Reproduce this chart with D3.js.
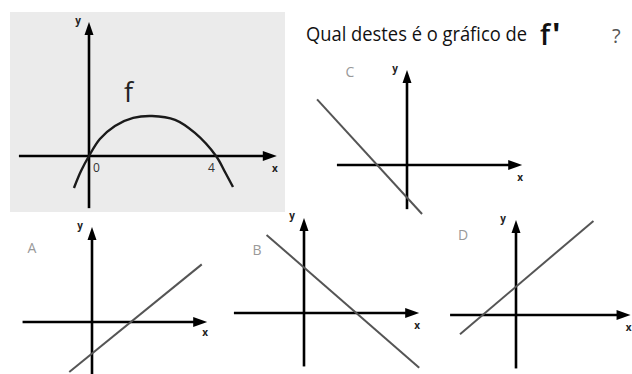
<!DOCTYPE html>
<html>
<head>
<meta charset="utf-8">
<script src="https://cdn.jsdelivr.net/npm/d3@7"></script>
<style>
  body { margin: 0; background: #fff; }
  text { font-family: "Open Sans", sans-serif; }
</style>
</head>
<body>
<div id="main"></div>
<script>
// points of f (units of the grid, 4 = second tick)
var fX = [-0.47, -0.25, 0, 0.34, 0.81, 1.38, 1.97, 2.69, 3.31, 3.97, 4.25, 4.5];
var fY = [-1.0, -0.47, 0, 0.53, 0.94, 1.19, 1.25, 1.13, 0.72, 0, -0.5, -0.97];
var fTicks = [0, 4];

// candidate graphs of f' : two end points of each line [x, y]
var options = ["A", "B", "C", "D"];
var lineA = [[-0.71, -1.56], [3.43, 1.8]];
var lineB = [[-1.17, 2.44], [3.6, -1.71]];
var lineC = [[-2.81, 2.05], [0.47, -1.53]];
var lineD = [[-1.75, -0.6], [2.42, 2.94]];
var lines = { A: lineA, B: lineB, C: lineC, D: lineD };

var width = 632, height = 374, unit = 32;

var svg = d3.select("#main")
  .append("svg")
  .attr("width", width)
  .attr("height", height);

// layout of each small plot: origin in pixels and axis extent in units
var panels = {
  f: { ox: 89, oy: 156, x: [-2.19, 5.87], y: [-1.63, 4.19], xl: [-2, 16], yl: [-11, 2] },
  A: { ox: 92, oy: 322, x: [-2.17, 3.6], y: [-1.63, 2.97], xl: [-2, 14], yl: [-12, 2], lab: [-60, -69] },
  B: { ox: 304, oy: 313, x: [-2.19, 3.6], y: [-1.67, 2.97], xl: [-2, 16], yl: [-12, 1], lab: [-47, -58] },
  C: { ox: 407, oy: 165, x: [-2.19, 3.6], y: [-1.38, 2.97], xl: [-2, 16], yl: [-12, 2], lab: [-57, -88] },
  D: { ox: 516, oy: 315, x: [-2.06, 3.58], y: [-1.67, 2.97], xl: [-2, 16], yl: [-13, 2], lab: [-53, -75] }
};

// grey box behind f
svg.append("rect")
  .attr("x", 10).attr("y", 12)
  .attr("width", 275).attr("height", 200)
  .attr("fill", "#ebebeb");

function makeScales(p) {
  var x = d3.scaleLinear().domain([0, 1]).range([p.ox, p.ox + unit]);
  var y = d3.scaleLinear().domain([0, 1]).range([p.oy, p.oy - unit]);
  return { x: x, y: y };
}

function drawAxes(g, p, s) {
  var x0 = s.x(p.x[0]), x1 = s.x(p.x[1]);
  var y0 = s.y(p.y[0]), y1 = s.y(p.y[1]);
  g.append("line")
    .attr("x1", x0).attr("x2", x1 - 10)
    .attr("y1", s.y(0)).attr("y2", s.y(0))
    .attr("stroke", "#000").attr("stroke-width", 2.6);
  g.append("line")
    .attr("x1", s.x(0)).attr("x2", s.x(0))
    .attr("y1", y0).attr("y2", y1 + 10)
    .attr("stroke", "#000").attr("stroke-width", 2.6);
  // arrow heads
  g.append("path")
    .attr("d", "M" + x1 + "," + s.y(0) + "L" + (x1 - 14) + "," + (s.y(0) - 5) + "L" + (x1 - 14) + "," + (s.y(0) + 5) + "Z")
    .attr("fill", "#000");
  g.append("path")
    .attr("d", "M" + s.x(0) + "," + y1 + "L" + (s.x(0) - 4.5) + "," + (y1 + 13) + "L" + (s.x(0) + 4.5) + "," + (y1 + 13) + "Z")
    .attr("fill", "#000");
  g.append("text")
    .attr("x", x1 + p.xl[0]).attr("y", s.y(0) + p.xl[1])
    .attr("text-anchor", "middle")
    .style("font-size", "10px").style("font-weight", "bold").attr("fill", "#222")
    .text("x");
  g.append("text")
    .attr("x", s.x(0) + p.yl[0]).attr("y", y1 + p.yl[1])
    .attr("text-anchor", "middle")
    .style("font-size", "10px").style("font-weight", "bold").attr("fill", "#222")
    .text("y");
}

// f panel
var pf = panels.f, sf = makeScales(pf);
var gf = svg.append("g");
drawAxes(gf, pf, sf);
gf.append("path")
  .datum(d3.zip(fX, fY))
  .attr("fill", "none")
  .attr("stroke", "#1a1a1a")
  .attr("stroke-width", 2.4)
  .attr("d", d3.line()
    .curve(d3.curveCatmullRom)
    .x(function (d) { return sf.x(d[0]); })
    .y(function (d) { return sf.y(d[1]); }));
gf.selectAll(".tick")
  .data(fTicks)
  .enter()
  .append("text")
  .attr("x", function (d) { return d === 0 ? sf.x(d) + 4 : sf.x(d) - 9; })
  .attr("y", sf.y(0) + 16)
  .style("font-size", "12px").attr("fill", "#333")
  .text(function (d) { return d; });
gf.append("text")
  .attr("x", 124).attr("y", 102)
  .style("font-size", "27px").attr("fill", "#222")
  .text("f");

// question
svg.append("text")
  .attr("x", 306).attr("y", 41)
  .attr("textLength", 221)
  .attr("lengthAdjust", "spacingAndGlyphs")
  .style("font-size", "19.5px").attr("fill", "#111")
  .text("Qual destes é o gráfico de");
svg.append("text")
  .attr("x", 540).attr("y", 45)
  .style("font-size", "28px").style("font-weight", "600").attr("fill", "#111")
  .text("f");
svg.append("text")
  .attr("x", 552).attr("y", 46)
  .style("font-size", "32px").style("font-weight", "bold").attr("fill", "#111")
  .text("'");
svg.append("text")
  .attr("x", 612).attr("y", 43)
  .style("font-size", "20px").attr("fill", "#555")
  .text("?");

// candidate plots
options.forEach(function (k) {
  var p = panels[k], s = makeScales(p);
  var g = svg.append("g");
  drawAxes(g, p, s);
  g.append("path")
    .datum(lines[k])
    .attr("fill", "none")
    .attr("stroke", "#555")
    .attr("stroke-width", 2)
    .attr("d", d3.line()
      .x(function (d) { return s.x(d[0]); })
      .y(function (d) { return s.y(d[1]); }));
  g.append("text")
    .attr("x", p.ox + p.lab[0]).attr("y", p.oy + p.lab[1])
    .attr("text-anchor", "middle")
    .style("font-size", "14px").attr("fill", "#999")
    .text(k);
});
</script>
</body>
</html>
